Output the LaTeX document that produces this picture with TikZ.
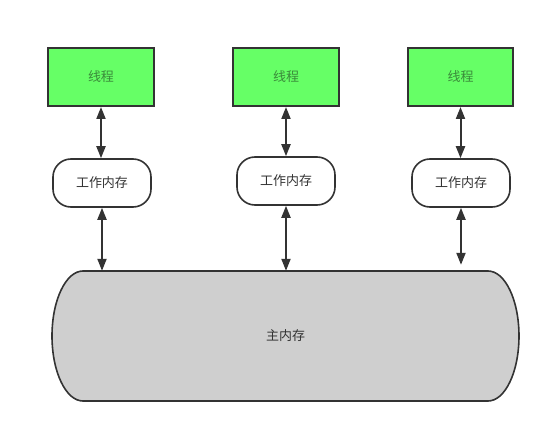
\documentclass[tikz,border=0pt]{standalone}
\usepackage{fontspec}
\setmainfont{Noto Sans CJK SC}
\usetikzlibrary{arrows.meta}
\definecolor{edge}{HTML}{333333}
\definecolor{threadfill}{HTML}{66FF66}
\definecolor{threadtext}{HTML}{3A8A3A}
\definecolor{mainfill}{HTML}{CFCFCF}
\begin{document}
\begin{tikzpicture}[x=1pt,y=-1pt,
  every node/.style={font=\fontsize{13}{15}\selectfont},
  threadbox/.style={draw=edge,line width=2pt,fill=threadfill,text=threadtext,
    minimum width=106pt,minimum height=58pt,inner sep=0pt},
  workbox/.style={draw=edge,line width=1.6pt,fill=white,text=edge,rounded corners=18pt,
    minimum width=98pt,minimum height=48pt,inner sep=0pt},
  link/.style={draw=edge,line width=2pt,{Triangle[length=12pt,width=9pt]}-{Triangle[length=12pt,width=9pt]}}
]
\useasboundingbox (0,0) rectangle (550,433);
\node[threadbox] (t1) at (101,77) {线程};
\node[threadbox] (t2) at (286,77) {线程};
\node[threadbox,minimum width=105pt] (t3) at (460.5,77) {线程};
\node[workbox] (w1) at (102,183) {工作内存};
\node[workbox] (w2) at (286,181) {工作内存};
\node[workbox] (w3) at (461,183) {工作内存};
\node[minimum width=467pt,minimum height=130pt,inner sep=0pt] (m) at (285.5,336) {};
\draw[draw=edge,line width=1.6pt,fill=mainfill]
  (83,271) -- (488,271)
  .. controls (505.1,271) and (519,300.1) .. (519,336)
  .. controls (519,371.9) and (505.1,401) .. (488,401)
  -- (83,401)
  .. controls (65.9,401) and (52,371.9) .. (52,336)
  .. controls (52,300.1) and (65.9,271) .. (83,271) -- cycle;
\node[text=edge] (mt) at (m.center) {主内存};
\draw[link] (t1.south) -- (t1.south |- w1.north);
\draw[link] (t2.south) -- (w2.north);
\draw[link] (t3.south) -- (t3.south |- w3.north);
\draw[link] (w1.south) -- (w1.south |- m.north);
\draw[link] (w2.south) -- (w2.south |- m.north);
\draw[link,shorten >=6pt] (w3.south) -- (w3.south |- m.north);
\end{tikzpicture}
\end{document}
